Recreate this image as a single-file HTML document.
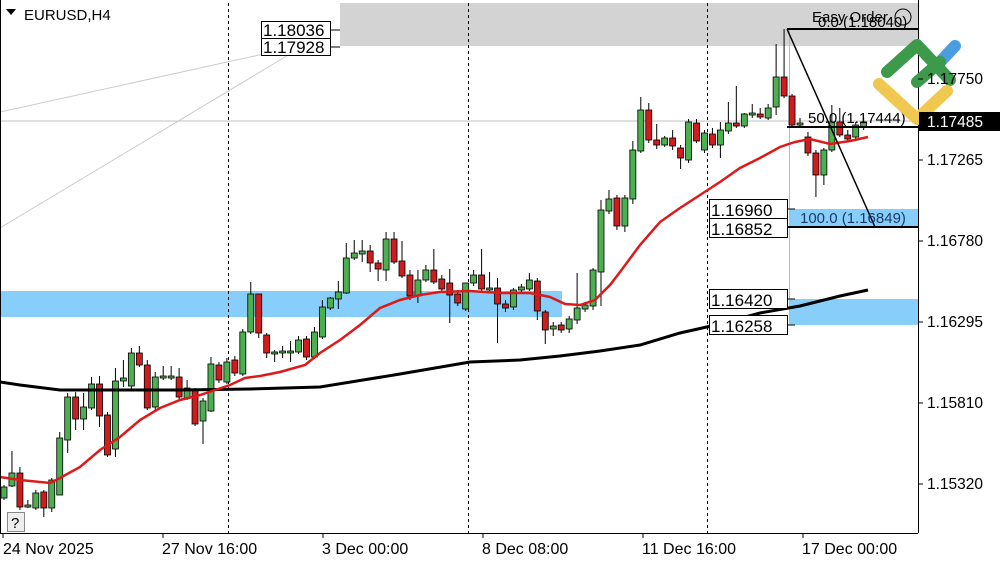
<!DOCTYPE html>
<html><head><meta charset="utf-8"><style>
body{margin:0;background:#fff;width:1000px;height:562px;overflow:hidden}
svg{display:block;font-family:"Liberation Sans",sans-serif}
</style></head><body>
<svg id="s" width="1000" height="562" viewBox="0 0 1000 562">
<rect width="1000" height="562" fill="#fff"/>
<rect x="340" y="3" width="578" height="43" fill="#d3d3d3"/>
<rect x="0" y="291" width="562" height="26" fill="#87cefa"/>
<rect x="789" y="299" width="129" height="26" fill="#87cefa"/>
<rect x="789" y="209" width="129" height="18" fill="#87cefa"/>
<line x1="0" y1="112" x2="300" y2="46" stroke="#ccc" stroke-width="1"/>
<line x1="0" y1="228" x2="300" y2="48" stroke="#ccc" stroke-width="1"/>
<line x1="0" y1="121" x2="918" y2="121" stroke="#c0c0c0" stroke-width="1"/>
<g stroke="#000" stroke-dasharray="3,3" stroke-width="1">
<line x1="228.5" y1="3" x2="228.5" y2="533"/><line x1="468.5" y1="3" x2="468.5" y2="533"/><line x1="707.5" y1="3" x2="707.5" y2="533"/></g>
<line x1="789.5" y1="29" x2="789.5" y2="325" stroke="#8cc4ec"/>
<g id="c"></g>
<polyline fill="none" stroke="#000" stroke-width="3" points="0,382 20,385 60,390 120,390 180,390 250,389 320,387 400,374 470,362 520,360 560,356 600,351 640,345 680,333 720,324 760,313 800,306 840,296 868,290"/>
<polyline fill="none" stroke="#dd1a1a" stroke-width="2.5" points="0,477 20,480 50,483 60,478 80,467 100,450 120,437 140,420 160,408 180,400 200,395 215,390 230,385 245,378 260,376 280,372 305,365 320,353 340,340 360,325 380,308 400,300 420,295 440,292 470,291 500,293 530,293 550,297 565,304 580,305 595,300 610,285 620,272 640,245 660,222 680,208 700,195 720,182 740,168 760,158 780,147 795,142 810,139 830,144 850,141 868,137"/>
<g stroke="#000" stroke-width="2"><line x1="787" y1="29" x2="918" y2="29"/><line x1="787" y1="127" x2="918" y2="127"/><line x1="787" y1="227" x2="918" y2="227"/></g>
<line x1="787" y1="29" x2="875" y2="227" stroke="#000" stroke-width="1.5"/>
<g font-size="15" fill="#000">
<text x="808" y="123">50.0 (1.17444)</text>
<text x="800" y="223" fill="#1a3a6a">100.0 (1.16849)</text>
<text x="818" y="27">0.0 (1.18040)</text>
<text x="812" y="22">Easy Order</text></g>
<circle cx="903" cy="17" r="8" fill="none" stroke="#000"/>
<g fill="#fff" stroke="#000" stroke-width="1">
<rect x="261.5" y="21.5" width="69" height="17"/><rect x="261.5" y="38.5" width="69" height="17"/>
<rect x="709.5" y="199.5" width="78" height="19"/><rect x="709.5" y="218.5" width="78" height="19"/>
<rect x="709.5" y="289.5" width="78" height="19"/><rect x="709.5" y="315.5" width="78" height="19"/></g>
<g stroke="#000"><line x1="330" y1="30" x2="340" y2="30"/><line x1="330" y1="47" x2="340" y2="47"/><line x1="787" y1="209" x2="795" y2="209"/><line x1="787" y1="299" x2="795" y2="299"/><line x1="787" y1="325" x2="795" y2="325"/></g>
<g font-size="17" fill="#000">
<text x="263" y="36">1.18036</text><text x="263" y="53">1.17928</text>
<text x="711" y="216">1.16960</text><text x="711" y="235">1.16852</text>
<text x="711" y="306">1.16420</text><text x="711" y="332">1.16258</text></g>
<line x1="918.5" y1="0" x2="918.5" y2="533" stroke="#000"/>
<g stroke-linecap="round" stroke-linejoin="round" fill="none" stroke-width="12">
<line x1="940" y1="62" x2="955" y2="46" stroke="#4a9ee0"/>
<polyline points="887,72 917,45 950,80" stroke="#3c9a4a"/>
<line x1="917" y1="82" x2="940" y2="62" stroke="#3c9a4a"/>
<polyline points="879,84 917,119 947,91" stroke="#f0c850"/></g>
<line x1="0" y1="533.5" x2="918" y2="533.5" stroke="#000"/>
<line x1="0.5" y1="0" x2="0.5" y2="533" stroke="#000"/>
<g font-size="15.5" fill="#000">
<text x="927" y="84">1.17750</text><text x="927" y="165">1.17265</text><text x="927" y="246">1.16780</text>
<text x="927" y="327">1.16295</text><text x="927" y="408">1.15810</text><text x="927" y="489">1.15320</text></g>
<g font-size="16" fill="#000">
<text x="3" y="554">24 Nov 2025</text><text x="162" y="554">27 Nov 16:00</text><text x="322" y="554">3 Dec 00:00</text>
<text x="482" y="554">8 Dec 08:00</text><text x="642" y="554">11 Dec 16:00</text><text x="802" y="554">17 Dec 00:00</text>
<text x="24" y="20" font-size="15">EURUSD,H4</text></g>
<g stroke="#000"><line x1="918" y1="79" x2="923" y2="79"/><line x1="918" y1="160" x2="923" y2="160"/><line x1="918" y1="241" x2="923" y2="241"/><line x1="918" y1="322" x2="923" y2="322"/><line x1="918" y1="403" x2="923" y2="403"/><line x1="918" y1="484" x2="923" y2="484"/>
<line x1="3" y1="533" x2="3" y2="538"/><line x1="163" y1="533" x2="163" y2="538"/><line x1="323" y1="533" x2="323" y2="538"/><line x1="483" y1="533" x2="483" y2="538"/><line x1="643" y1="533" x2="643" y2="538"/><line x1="803" y1="533" x2="803" y2="538"/></g>
<rect x="919" y="112" width="81" height="19" fill="#000"/>
<text x="927" y="127" font-size="15.5" fill="#fff">1.17485</text>
<polygon points="6,9 16,9 11,15" fill="#000"/>
<rect x="7.5" y="512.5" width="17" height="19" fill="#eee" stroke="#888"/>
<text x="11" y="528" font-size="15">?</text>
</svg>
<script>
var d=[[498,487,485,500],[486,473,451,487],[473,507,467,510],[506,506,500,508],[508,493,490,510],[492,508,490,517],[508,480,478,512],[495,438,432,495],[440,397,393,453],[397,419,392,430],[419,407,393,430],[408,384,377,410],[384,416,376,427],[415,455,412,457],[449,381,368,457],[381,378,360,387],[386,353,348,390],[353,365,346,367],[365,408,360,410],[407,377,372,410],[377,377,366,380],[377,377,366,380],[377,397,368,399],[398,388,380,400],[390,424,388,426],[421,401,398,444],[411,364,357,412],[365,380,362,383],[382,362,358,384],[360,373,356,376],[374,332,329,376],[332,294,282,334],[294,333,295,338],[335,353,333,358],[353,353,350,362],[352,352,346,358],[352,352,341,362],[352,340,336,354],[339,357,336,360],[357,332,327,359],[337,307,300,339],[308,298,297,310],[299,292,281,309],[293,258,243,294],[258,253,240,260],[254,251,240,262],[251,263,245,272],[263,269,260,281],[270,239,232,281],[239,262,232,264],[261,276,241,278],[275,296,270,300],[296,280,270,303],[280,270,265,282],[270,282,249,284],[279,289,275,292],[283,295,269,323],[294,303,290,306],[309,283,288,311],[283,275,270,286],[275,289,249,291],[289,289,272,291],[288,304,278,343],[304,308,300,312],[307,290,288,310],[290,287,284,292],[289,280,273,291],[281,311,278,320],[312,330,310,344],[329,326,322,336],[325,330,322,333],[329,319,316,333],[320,308,273,324],[309,305,302,312],[306,270,268,310],[272,210,200,306],[211,199,190,214],[198,226,195,230],[226,198,195,232],[199,150,141,204],[151,110,97,153],[110,140,103,143],[140,145,124,149],[145,138,136,147],[138,146,130,150],[148,158,145,169],[160,122,119,163],[123,141,119,143],[150,133,130,153],[134,145,128,148],[145,130,122,158],[131,123,102,134],[123,126,86,128],[126,114,113,128],[114,114,104,118],[114,117,108,119],[118,108,104,120],[107,77,44,115],[77,96,29,98],[96,125,94,128],[124,124,118,128],[137,153,132,156],[153,175,150,197],[175,150,148,185],[150,122,105,152],[122,135,108,137],[135,139,130,141],[137,125,122,139],[127,122,118,130]];
var g=document.getElementById('c'),h='';
d.forEach(function(c,i){var x=4+7.96*i,o=c[0],cl=c[1],t=Math.min(o,cl),b=Math.max(o,cl);if(b-t<1.5){t-=1;b+=1}
var up=cl<=o;h+='<line x1="'+x+'" y1="'+c[2]+'" x2="'+x+'" y2="'+c[3]+'" stroke="#000"/>';
h+='<rect x="'+(x-3)+'" y="'+t+'" width="6" height="'+(b-t)+'" fill="'+(up?'#4caf50':'#d01c1c')+'" stroke="#000" stroke-width="0.8"/>';});
g.innerHTML=h;
</script>
</body></html>
